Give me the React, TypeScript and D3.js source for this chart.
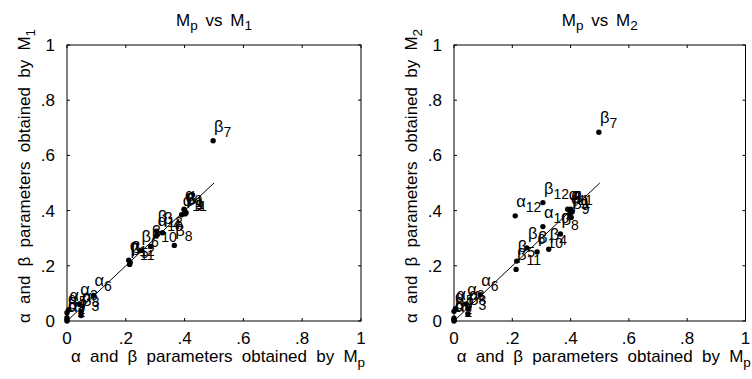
import React from "react";
import * as d3 from "d3";

// parameter names (symbol + index)
const symbols = ["α","β","α","β","α","β","α","β","α","β","α","β","α","β","α","β","α","β","α","β","α","β","α","β"];
const indices = [1,1,2,2,3,3,4,4,5,5,6,6,7,7,8,8,9,9,10,10,11,11,12,12];
// values obtained by Mp (x)
const mpValues = [0.400,0.405,0.000,0.000,0.042,0.048,0.000,0.325,0.005,0.215,0.090,0.250,0.000,0.497,0.048,0.365,0.398,0.402,0.305,0.285,0.390,0.213,0.210,0.305];
// values obtained by M1 (left panel y)
const m1Values = [0.400,0.392,0.000,0.012,0.062,0.020,0.030,0.320,0.040,0.212,0.093,0.255,0.005,0.653,0.035,0.274,0.405,0.388,0.310,0.270,0.385,0.205,0.220,0.325];
// values obtained by M2 (right panel y)
const m2Values = [0.405,0.395,0.000,0.010,0.062,0.025,0.035,0.260,0.045,0.217,0.095,0.265,0.005,0.684,0.045,0.315,0.390,0.375,0.342,0.250,0.405,0.187,0.381,0.429];

const tickValues = [0, 0.2, 0.4, 0.6, 0.8, 1];
const tickLabels = ["0", ".2", ".4", ".6", ".8", "1"];
const refLine = [0, 0.5];

const FONT = "'Liberation Sans', Arial, Helvetica, sans-serif";

type PanelProps = { x0: number; x1: number; yValues: number[]; sub: string };

function Panel({ x0, x1, yValues, sub }: PanelProps) {
  const top = 45, bottom = 321;
  const xs = d3.scaleLinear().domain([0, 1]).range([x0, x1]);
  const ys = d3.scaleLinear().domain([0, 1]).range([bottom, top]);
  const tl = 3;
  const line = d3.line<number>().x((d) => xs(d)).y((d) => ys(d));
  const cx = (x0 + x1) / 2;
  return (
    <g fontFamily={FONT}>
      <rect x={x0} y={top} width={x1 - x0} height={bottom - top} fill="white" stroke="black" strokeWidth={1} />
      {tickValues.map((t, i) => (
        <g key={i}>
          <line x1={xs(t)} x2={xs(t)} y1={bottom} y2={bottom - tl} stroke="black" />
          <line x1={xs(t)} x2={xs(t)} y1={top} y2={top + tl} stroke="black" />
          <line x1={x0} x2={x0 + tl} y1={ys(t)} y2={ys(t)} stroke="black" />
          <line x1={x1} x2={x1 - tl} y1={ys(t)} y2={ys(t)} stroke="black" />
          <text x={xs(t)} y={bottom + 23} fontSize={17} textAnchor="middle">{tickLabels[i]}</text>
          <text x={x0 - 12} y={ys(t) + 6} fontSize={17} textAnchor="end">{tickLabels[i]}</text>
        </g>
      ))}
      <path d={line(refLine) || ""} stroke="black" strokeWidth={1} fill="none" />
      {mpValues.map((v, i) => (
        <circle key={i} cx={xs(v)} cy={ys(yValues[i])} r={2.7} fill="black" />
      ))}
      {mpValues.map((v, i) => (
        <text key={i} x={xs(v) + 1} y={ys(yValues[i]) - 9} fontSize={16.5}>
          {symbols[i]}
          <tspan fontSize={14} dy={5}>{indices[i]}</tspan>
        </text>
      ))}
      <text x={cx} y={26} fontSize={17} textAnchor="middle" style={{ wordSpacing: "3px" }}>
        M<tspan fontSize={13.5} dy={4}>p</tspan>
        <tspan dy={-4}> vs M</tspan>
        <tspan fontSize={13.5} dy={4}>{sub}</tspan>
      </text>
      <text x={cx + 4} y={362} fontSize={17} textAnchor="middle" style={{ wordSpacing: "4.5px" }}>
        α and β parameters obtained by M<tspan fontSize={13.5} dy={5}>p</tspan>
      </text>
      <text transform={`translate(${x0 - 37},176) rotate(-90)`} fontSize={17} textAnchor="middle" style={{ wordSpacing: "4.5px" }}>
        α and β parameters obtained by M<tspan fontSize={13.5} dy={5}>{sub}</tspan>
      </text>
    </g>
  );
}

export default function App() {
  return (
    <svg width={752} height={379} style={{ position: "absolute", left: 0, top: 0, background: "white" }}>
      <rect x={0} y={0} width={752} height={379} fill="white" />
      <Panel x0={67} x1={361} yValues={m1Values} sub="1" />
      <Panel x0={454} x1={745.5} yValues={m2Values} sub="2" />
    </svg>
  );
}
